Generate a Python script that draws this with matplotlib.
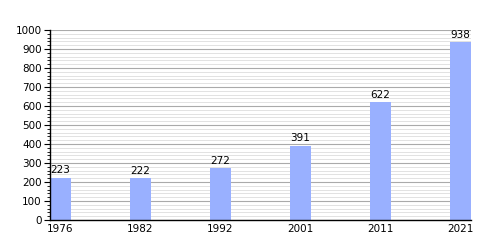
import matplotlib.pyplot as plt
import numpy as np
from matplotlib.ticker import MultipleLocator

years = ['1976', '1982', '1992', '2001', '2011', '2021']
population = [223, 222, 272, 391, 622, 938]

bar_w = 0.2625
x = np.arange(len(years))

fig = plt.figure(figsize=(5, 2.5), dpi=100)
ax = fig.add_axes([0.1, 0.12, 0.842, 0.76])

ax.yaxis.set_major_locator(MultipleLocator(100))
ax.yaxis.set_minor_locator(MultipleLocator(20))
ax.grid(which='major', axis='y', color='#aaaaaa', linewidth=0.8)
ax.grid(which='minor', axis='y', color='#dddddd', linewidth=0.6)
ax.set_axisbelow(True)

ax.bar(x, population, width=bar_w, align='edge', color='#99b0ff')
for xi, v in zip(x, population):
    ax.text(xi + bar_w / 2, v + 12, str(v), ha='center', va='bottom', fontsize=7.5)

ax.set_xlim(0, len(years) - 1 + bar_w)
ax.set_ylim(0, 1000)
ax.set_xticks(x + bar_w / 2)
ax.set_xticklabels(years)
ax.tick_params(axis='x', length=0, labelsize=7.5, pad=3)
ax.tick_params(axis='y', which='major', length=4, width=0.8, labelsize=7.5, pad=2)
ax.tick_params(axis='y', which='minor', length=2, width=0.6)

for s in ['top', 'right']:
    ax.spines[s].set_visible(False)
ax.spines['left'].set_linewidth(1)
ax.spines['bottom'].set_linewidth(1)

plt.savefig('out.png', dpi=100)
